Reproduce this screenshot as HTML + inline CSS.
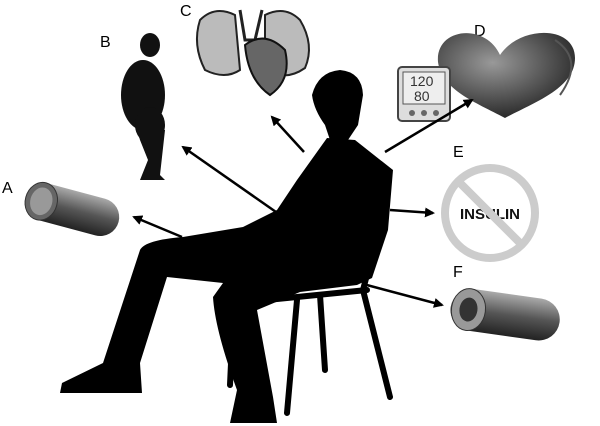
<!DOCTYPE html>
<html><head><meta charset="utf-8"><style>
html,body{margin:0;padding:0;background:#fff;}
svg{display:block;font-family:"Liberation Sans",sans-serif;}
</style></head><body>
<svg width="600" height="426" viewBox="0 0 600 426" xmlns="http://www.w3.org/2000/svg">
<defs>
<marker id="ah" markerWidth="10" markerHeight="10" refX="8" refY="5" orient="auto" markerUnits="userSpaceOnUse">
<path d="M0,0 L10,5 L0,10 z" fill="#000"/></marker>
<linearGradient id="ves" x1="0" y1="0" x2="0" y2="1"><stop offset="0" stop-color="#aaa"/><stop offset="0.5" stop-color="#555"/><stop offset="1" stop-color="#222"/></linearGradient>
<radialGradient id="hg" cx="0.4" cy="0.35" r="0.7"><stop offset="0" stop-color="#999"/><stop offset="1" stop-color="#222"/></radialGradient>
</defs>
<g font-size="16" fill="#000">
<text x="2" y="193">A</text><text x="100" y="47">B</text><text x="180" y="16">C</text>
<text x="474" y="36">D</text><text x="453" y="157">E</text><text x="453" y="277">F</text>
</g>
<!-- A vessel -->
<g transform="rotate(15 70 210)">
<rect x="25" y="190" width="95" height="38" rx="19" fill="url(#ves)"/>
<ellipse cx="40" cy="209" rx="16" ry="19" fill="#666" stroke="#333"/>
<ellipse cx="40" cy="209" rx="11" ry="14" fill="#999"/>
</g>
<!-- B obese silhouette -->
<g fill="#111">
<ellipse cx="150" cy="45" rx="10" ry="12"/>
<ellipse cx="143" cy="95" rx="22" ry="35"/>
<ellipse cx="150" cy="125" rx="15" ry="18"/>
<path d="M137 130 L165 130 L160 175 L165 180 L140 180 L148 160 L140 140 Z"/>
</g>
<!-- C lungs & heart -->
<g>
<path d="M200 20 Q215 5 235 15 L240 70 Q225 80 205 70 Q192 45 200 20Z" fill="#bbb" stroke="#222" stroke-width="2"/>
<path d="M300 20 Q285 5 265 15 L265 70 Q285 82 305 68 Q315 45 300 20Z" fill="#bbb" stroke="#222" stroke-width="2"/>
<path d="M240 10 L245 40 L255 40 L262 10" fill="none" stroke="#222" stroke-width="3"/>
<path d="M245 45 Q265 30 285 50 Q292 80 270 95 Q248 80 245 45Z" fill="#666" stroke="#111" stroke-width="2"/>
</g>
<!-- D heart + monitor -->
<g>
<path d="M500 55 C485 22 435 28 438 62 C442 90 475 102 505 118 C535 102 575 88 575 58 C575 25 520 25 500 55Z" fill="url(#hg)"/>
<path d="M555 40 Q585 60 560 95" fill="none" stroke="#555" stroke-width="2"/>
<rect x="398" y="67" width="52" height="54" rx="4" fill="#ddd" stroke="#444" stroke-width="2"/>
<rect x="403" y="72" width="42" height="32" fill="#eee" stroke="#555"/>
<text x="410" y="86" font-size="14" fill="#333">120</text>
<text x="414" y="101" font-size="14" fill="#333">80</text>
<circle cx="412" cy="113" r="3" fill="#666"/><circle cx="424" cy="113" r="3" fill="#666"/><circle cx="436" cy="113" r="3" fill="#666"/>
</g>
<!-- E insulin -->
<g>
<circle cx="490" cy="213" r="45" fill="#fff" stroke="#ccc" stroke-width="8"/>
<text x="490" y="219" font-size="15" font-weight="bold" text-anchor="middle" fill="#111">INSULIN</text>
<line x1="458" y1="181" x2="522" y2="245" stroke="#ccc" stroke-width="8"/>
</g>
<!-- F vessel -->
<g transform="rotate(8 500 315)">
<rect x="450" y="293" width="110" height="42" rx="21" fill="url(#ves)"/>
<ellipse cx="468" cy="314" rx="17" ry="21" fill="#999" stroke="#333"/>
<ellipse cx="468" cy="314" rx="9" ry="12" fill="#333"/>
</g>
<!-- chair -->
<g stroke="#000" stroke-width="6" fill="none" stroke-linecap="round">
<path d="M383 213 L363 290"/>
<path d="M363 290 L390 397"/>
<path d="M233 320 L230 385"/>
<path d="M297 300 L287 413"/>
<path d="M320 295 L325 370"/>
<path d="M267 300 L367 290"/>
</g>
<!-- man -->
<g fill="#000">
<path d="M312 95 Q318 72 340 70 Q362 72 363 95 L358 125 L348 140 L330 140 L325 125 Q314 110 312 95Z"/>
<path d="M327 138 L355 140 L393 170 L388 230 L372 278 L357 285 L300 292 L257 310 L273 397 L277 423 L230 423 L237 390 Q215 330 213 297 L223 283 L167 277 L140 363 L142 393 L60 393 L62 383 L103 363 L140 250 Q145 240 183 237 L243 227 L277 210 L297 180 Z"/>
</g>
<!-- arrows -->
<g stroke="#000" stroke-width="2.5" marker-end="url(#ah)">
<line x1="182" y1="237" x2="134" y2="217"/>
<line x1="276" y1="212" x2="183" y2="147"/>
<line x1="304" y1="152" x2="272" y2="117"/>
<line x1="385" y1="152" x2="472" y2="100"/>
<line x1="390" y1="210" x2="433" y2="213"/>
<line x1="363" y1="284" x2="442" y2="305"/>
</g>
</svg>
</body></html>
